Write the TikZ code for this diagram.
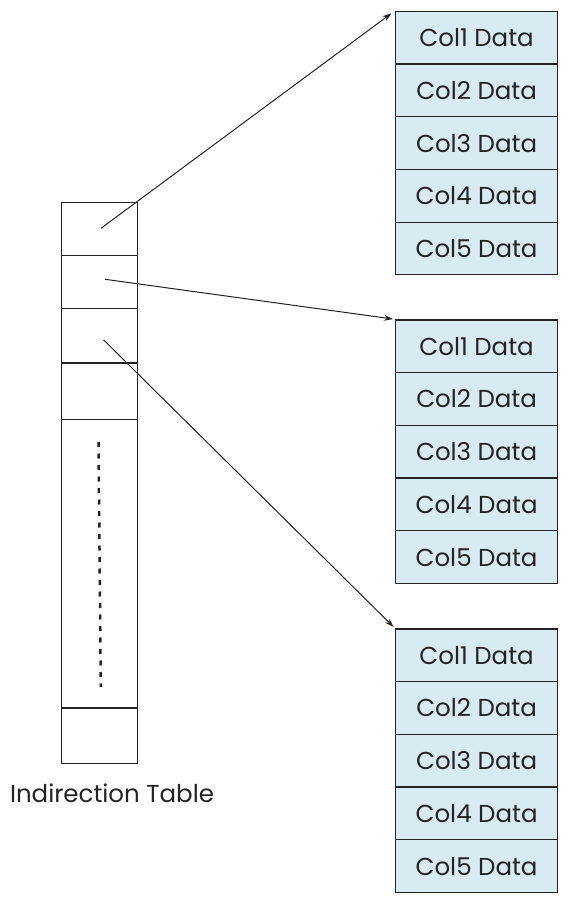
\documentclass[tikz,border=0pt]{standalone}
\usepackage{fontspec}
\setmainfont{Poppins}
\usetikzlibrary{arrows.meta}
\definecolor{cellblue}{RGB}{217,235,242}
\definecolor{edge}{RGB}{35,35,35}
\begin{document}
\begin{tikzpicture}[x=1pt,y=-1pt,
  cell/.style={draw=edge, line width=1.2pt, fill=cellblue, minimum width=162pt,
    minimum height=52.7pt, inner sep=0pt, anchor=north west,
    font=\fontsize{24.5}{28}\selectfont, text=edge},
  tcell/.style={draw=edge, line width=1.2pt, minimum width=76.5pt, inner sep=0pt,
    anchor=north west},
  ptr/.style={draw=edge, line width=1pt, -{Stealth[length=9pt,width=6pt]}, shorten >=2pt},
  dots/.style={draw=edge, line width=2.5pt, dash pattern=on 5pt off 6.5pt},
  lbl/.style={font=\fontsize{24.5}{28}\selectfont, text=edge}]
\useasboundingbox (0,0) rectangle (568,902);
% indirection table
\node[tcell, minimum height=53.3pt] (t1) at (60.7,201.7) {};
\node[tcell, minimum height=52.7pt] (t2) at (60.7,255) {};
\node[tcell, minimum height=54.6pt] (t3) at (60.7,307.7) {};
\node[tcell, minimum height=56.7pt] (t4) at (60.7,362.3) {};
\node[tcell, minimum height=288.3pt] (t5) at (60.7,419) {};
\node[tcell, minimum height=55.4pt] (t6) at (60.7,707.3) {};
\coordinate (d1) at (98.5,442);
\coordinate (d2) at (100.8,687);
\draw[dots] (d1) -- (d2);
\node[lbl] (label) at (112,793) {Indirection Table};
% data blocks
\foreach \b/\T in {1/10.7,2/319.3,3/628.3}{
  \foreach \i in {1,...,5}{
    \node[cell] (b\b c\i) at (395,{\T+52.7*(\i-1)}) {Col\i\ Data};
  }
}
% pointers
\coordinate (p1) at (101,228.3);
\coordinate (p2) at (105,279.3);
\coordinate (p3) at (103.7,340);
\draw[ptr, shorten >=4.5pt] (p1) -- (b1c1.north west);
\draw[ptr] (p2) -- (b2c1.north west);
\draw[ptr] (p3) -- (b3c1.north west);
\end{tikzpicture}
\end{document}
